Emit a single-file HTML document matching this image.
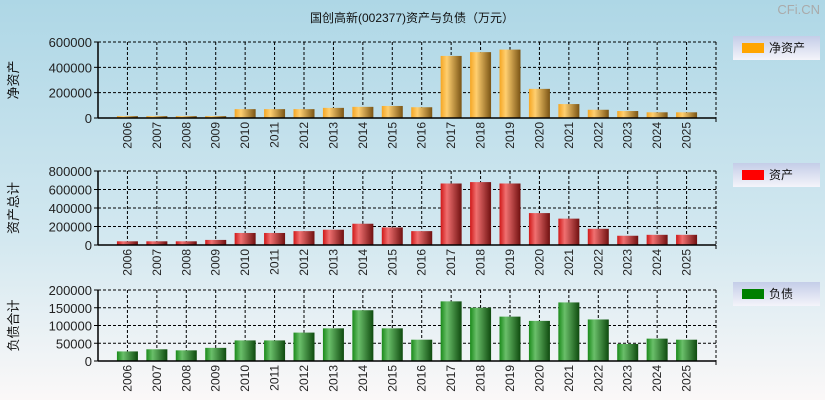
<!DOCTYPE html>
<html><head><meta charset="utf-8"><style>
body{margin:0;width:825px;height:400px;overflow:hidden;font-family:"Liberation Sans","Noto Sans CJK SC",sans-serif}
</style></head><body>
<svg id="c" width="825" height="400" xmlns="http://www.w3.org/2000/svg" font-family="Liberation Sans, Noto Sans CJK SC, sans-serif">
<defs>
<linearGradient id="bg" x1="0" y1="0" x2="0" y2="1"><stop offset="0" stop-color="#aed7e6"/><stop offset="0.6" stop-color="#d3e8f0"/><stop offset="1" stop-color="#fbf8f8"/></linearGradient>
<linearGradient id="go" x1="0" y1="0" x2="1" y2="0"><stop offset="0" stop-color="#f5a623"/><stop offset="0.3" stop-color="#ffcf70"/><stop offset="1" stop-color="#7a5414"/></linearGradient>
<linearGradient id="gr" x1="0" y1="0" x2="1" y2="0"><stop offset="0" stop-color="#d01818"/><stop offset="0.3" stop-color="#f07070"/><stop offset="1" stop-color="#701010"/></linearGradient>
<linearGradient id="gg" x1="0" y1="0" x2="1" y2="0"><stop offset="0" stop-color="#1a8a1a"/><stop offset="0.3" stop-color="#6abf6a"/><stop offset="1" stop-color="#0e4a0e"/></linearGradient>
<linearGradient id="lg" x1="0" y1="0" x2="0" y2="1"><stop offset="0" stop-color="#c4cde8"/><stop offset="1" stop-color="#f4f4fa"/></linearGradient>
</defs>
<rect width="825" height="400" fill="url(#bg)"/>
<text x="412" y="22" text-anchor="middle" font-size="12" fill="#111">国创高新(002377)资产与负债（万元）</text>
<text x="820" y="14" text-anchor="end" font-size="13" fill="#aaa">CFi.CN</text>
<g id="g"></g>
</svg>
<script>
const years=['2006','2007','2008','2009','2010','2011','2012','2013','2014','2015','2016','2017','2018','2019','2020','2021','2022','2023','2024','2025'];
const netAssets=[15000,15000,15000,15000,70000,70000,70000,80000,88000,95000,85000,490000,520000,540000,230000,110000,65000,55000,45000,45000];
const totalAssets=[40000,40000,40000,55000,130000,130000,150000,165000,230000,190000,150000,665000,680000,665000,345000,285000,175000,100000,110000,110000];
const liabilities=[27000,33000,30000,37000,58000,58000,80000,92000,143000,92000,60000,168000,150000,125000,113000,165000,117000,48000,63000,60000];
const ticksNet=[0,200000,400000,600000];
const ticksTot=[0,200000,400000,600000,800000];
const ticksLia=[0,50000,100000,150000,200000];
const NS='http://www.w3.org/2000/svg';
const G=document.getElementById('g');
function mk(t,a,p){const e=document.createElementNS(NS,t);for(const k in a)e.setAttribute(k,a[k]);(p||G).appendChild(e);return e;}
const X0=98,X1=716,band=(X1-X0)/21;
function xs(i){return X0+(i+1)*band;}
function panel(key,top,bot,max,ticks,vals,fill,label,legName,legColor,legY){
  const g=mk('g',{});
  
  
  const ys=v=>bot-(v/max)*(bot-top);
  ticks.forEach(t=>{
    const y=ys(t);
    if(t>0){const l=mk('line',{x1:X0,x2:X1,y1:y,y2:y,stroke:'#000','stroke-dasharray':'3,2','stroke-width':1},g);
    
    }
    const tk=mk('line',{x1:X0-4,x2:X0,y1:y,y2:y,stroke:'#000'},g);
    
    
    const tx=mk('text',{x:X0-6,y:y+5,'text-anchor':'end','font-size':13,fill:'#222'},g);
    tx.textContent=t;
    
    
  });
  years.forEach((yr,i)=>{
    const x=xs(i);
    const l=mk('line',{x1:x,x2:x,y1:top,y2:bot,stroke:'#000','stroke-dasharray':'3,2'},g);
    
    
    const v=vals[i],y=ys(v);
    const r=mk('rect',{x:x-10.5,y:y,width:21,height:bot-y,fill:fill},g);
    
    
    const t=mk('text',{x:0,y:0,'font-size':12,fill:'#222','text-anchor':'end',transform:`translate(${x+4},${bot+4}) rotate(-90)`},g);
    t.textContent=yr;
    
    
  });
  mk('line',{x1:X0,x2:X1,y1:top,y2:top,stroke:'#000','stroke-dasharray':'3,2'},g);
  mk('line',{x1:X1,x2:X1,y1:top,y2:bot,stroke:'#000','stroke-dasharray':'3,2'},g);
  const ax=mk('line',{x1:X0,x2:X0,y1:top,y2:bot,stroke:'#000','stroke-width':1.5},g);
  
  
  const bx=mk('line',{x1:X0,x2:X1,y1:bot,y2:bot,stroke:'#000','stroke-width':1.5},g);
  
  
  mk('line',{x1:X1,x2:X1,y1:bot,y2:bot+4,stroke:'#000'},g);
  const yl=mk('text',{x:0,y:0,'font-size':13,fill:'#111','text-anchor':'middle',transform:`translate(18,${(top+bot)/2}) rotate(-90)`},g);
  yl.textContent=label;
  
  
  const lg=mk('g',{},g);
  
  
  mk('rect',{x:733,y:legY,width:87,height:24,fill:'url(#lg)'},lg);
  const sw=mk('rect',{x:742,y:legY+7,width:22,height:10,fill:legColor},lg);
  
  
  const lt=mk('text',{x:769,y:legY+16,'font-size':12,fill:'#111'},lg);
  lt.textContent=legName;
  
  
}
panel('net-assets',42,118,600000,ticksNet,netAssets,'url(#go)','净资产','净资产','#ffa500',36);
panel('total-assets',171,245,800000,ticksTot,totalAssets,'url(#gr)','资产总计','资产','#ff0000',163);
panel('liabilities',290,361,200000,ticksLia,liabilities,'url(#gg)','负债合计','负债','#008000',282);
</script>
</body></html>
